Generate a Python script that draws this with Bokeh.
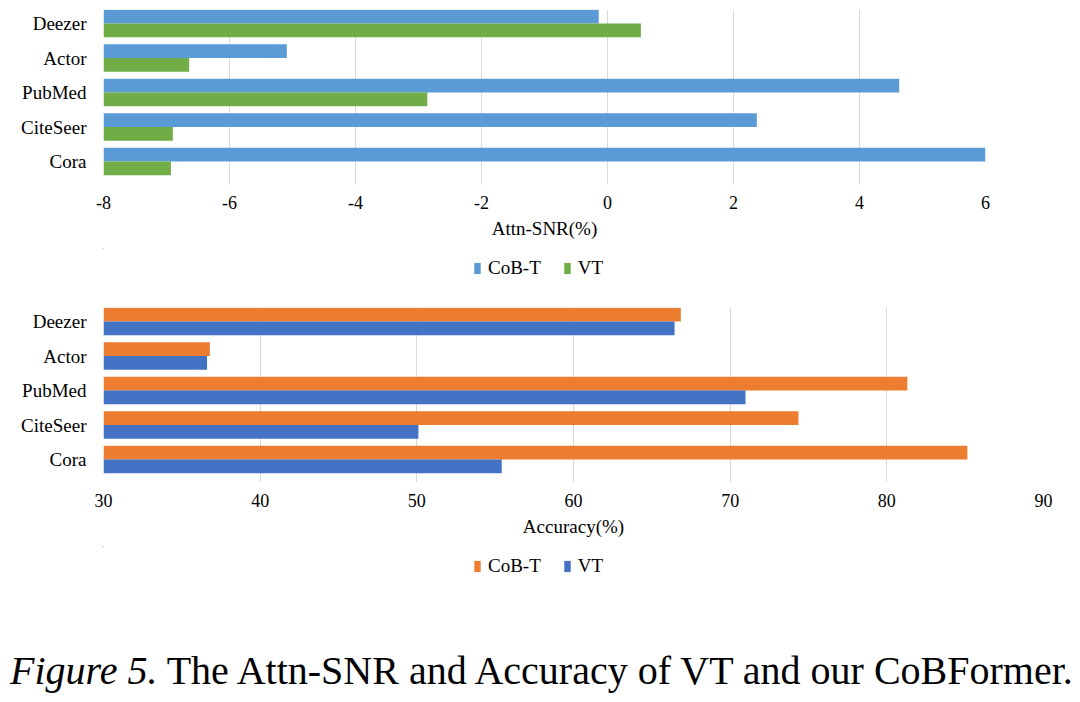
from bokeh.plotting import figure
from bokeh.models import (ColumnDataSource, Range1d, SingleIntervalTicker, FixedTicker, Legend,
                          LegendItem, Div, NumeralTickFormatter)
from bokeh.layouts import column
from bokeh.transform import dodge
from bokeh.embed import file_html
from bokeh.resources import INLINE

# ---- data ----
categories = ["Cora", "CiteSeer", "PubMed", "Actor", "Deezer"]
series_names = ["CoB-T", "VT"]
snr_cobt = [6.0, 2.37, 4.63, -5.09, -0.14]
snr_vt = [-6.93, -6.90, -2.86, -6.64, 0.53]
acc_cobt = [85.14, 74.36, 81.31, 36.79, 66.85]
acc_vt = [55.42, 50.10, 70.98, 36.61, 66.45]
snr_axis = (-8, 6, 2)
acc_axis = (30, 90, 10)
snr_title = "Attn-SNR(%)"
acc_title = "Accuracy(%)"
caption_italic = "Figure 5."
caption_rest = "The Attn-SNR and Accuracy of VT and our CoBFormer."

FONT = "Liberation Serif"


def make_source(v1, v2, axis):
    ypos = list(range(len(categories)))
    return ColumnDataSource(dict(y=ypos, base=[axis[0]] * len(ypos), a=v1, b=v2))


def add_bars(p, src, c1, c2):
    r1 = p.hbar(y=dodge("y", 0.2), left="base", right="a", height=0.4,
                source=src, fill_color=c1, line_color=None)
    r2 = p.hbar(y=dodge("y", -0.2), left="base", right="b", height=0.4,
                source=src, fill_color=c2, line_color=None)
    return r1, r2


def make_chart(src, axis, title, c1, c2, frame_w, right_border):
    lo, hi, step = axis
    ypos = list(range(len(categories)))
    p = figure(frame_width=frame_w, frame_height=175, output_backend="svg", toolbar_location=None,
               x_range=Range1d(lo, hi), y_range=Range1d(-0.666, 4.406),
               min_border_left=103, min_border_right=right_border,
               min_border_top=9, min_border_bottom=64)
    p.outline_line_color = None
    add_bars(p, src, c1, c2)
    p.ygrid.grid_line_color = None
    p.xgrid.grid_line_color = "#D9D9D9"
    p.xgrid.ticker = SingleIntervalTicker(interval=step)
    p.xaxis.ticker = SingleIntervalTicker(interval=step)
    p.xaxis.formatter = NumeralTickFormatter(format="0")
    p.yaxis.ticker = FixedTicker(ticks=ypos)
    p.yaxis.major_label_overrides = {i: c for i, c in zip(ypos, categories)}
    for ax in (p.xaxis, p.yaxis):
        ax.axis_line_color = None
        ax.major_tick_line_color = None
        ax.minor_tick_line_color = None
        ax.major_tick_out = 0
        ax.major_tick_in = 0
        ax.minor_tick_out = 0
        ax.major_label_text_font = FONT
        ax.major_label_text_color = "#000000"
    p.xaxis.major_label_text_font_size = "18px"
    p.yaxis.major_label_text_font_size = "19px"
    p.xaxis.major_label_standoff = 11
    p.yaxis.major_label_standoff = 17
    p.xaxis.axis_label = title
    p.xaxis.axis_label_text_font = FONT
    p.xaxis.axis_label_text_font_size = "19px"
    p.xaxis.axis_label_text_font_style = "normal"
    p.xaxis.axis_label_text_color = "#000000"
    p.xaxis.axis_label_standoff = 6
    return p


def make_legend(src, c1, c2):
    # legend strip: same bars, kept far outside its (empty) view, only the legend shows
    lp = figure(width=1064, height=50, output_backend="svg", toolbar_location=None,
                x_range=Range1d(1000, 1001), y_range=Range1d(-100, -99),
                min_border_left=0, min_border_right=0, min_border_top=0, min_border_bottom=0)
    lp.axis.visible = False
    lp.grid.visible = False
    lp.outline_line_color = None
    k1, k2 = add_bars(lp, src, c1, c2)
    leg = Legend(items=[LegendItem(label=series_names[0], renderers=[k1]),
                        LegendItem(label=series_names[1], renderers=[k2])],
                 orientation="horizontal", location=(370, 19),
                 border_line_color=None, background_fill_alpha=0,
                 glyph_width=8, glyph_height=14, label_standoff=7, spacing=22,
                 label_text_font=FONT, label_text_font_size="19px",
                 label_text_color="#000000",
                 padding=0, margin=0)
    lp.add_layout(leg, "center")
    return lp


src1 = make_source(snr_cobt, snr_vt, snr_axis)
src2 = make_source(acc_cobt, acc_vt, acc_axis)
p1 = make_chart(src1, snr_axis, snr_title, "#5B9BD5", "#70AD47", 882, 79)
l1 = make_legend(src1, "#5B9BD5", "#70AD47")
p2 = make_chart(src2, acc_axis, acc_title, "#ED7D31", "#4472C4", 940, 21)
l2 = make_legend(src2, "#ED7D31", "#4472C4")

cap = Div(width=1064, height=88,
          text=('<div style="font-family: \'Liberation Serif\'; font-size: 40px; '
                'line-height: 1; padding-top: 50px; padding-left: 5px; '
                'white-space: nowrap; color: #000;">'
                '<i>' + caption_italic + '</i> ' + caption_rest + '</div>'))

layout = column(p1, l1, p2, l2, cap, spacing=0)
open("out.html", "w").write(file_html(layout, INLINE))
